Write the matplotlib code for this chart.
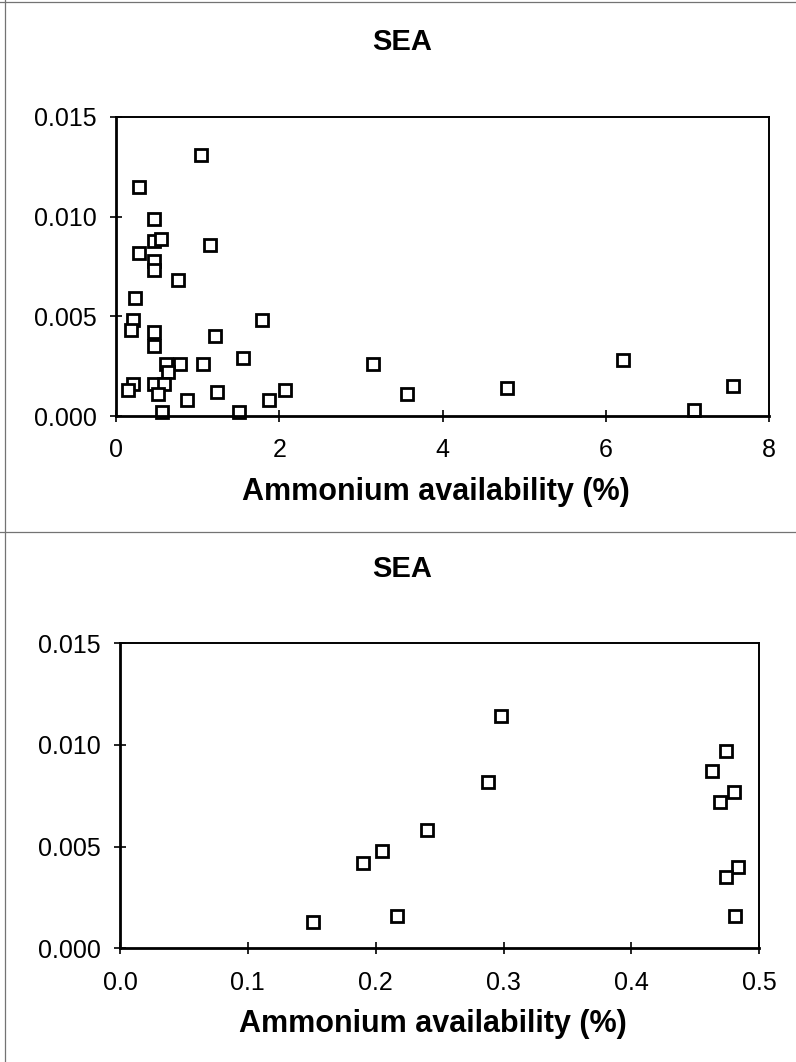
import matplotlib
matplotlib.use("Agg")
import matplotlib.pyplot as plt
from matplotlib.lines import Line2D

plt.rcParams['font.family'] = ['Liberation Sans', 'DejaVu Sans']

# top panel: all samples
x_all = [1.04, 0.28, 0.47, 0.47, 0.55, 0.28, 1.15, 0.47, 0.47, 0.76,
         0.23, 0.21, 0.18, 1.79, 0.47, 0.47, 1.21, 0.61, 0.79, 0.64,
         1.07, 1.55, 3.15, 0.21, 0.15, 0.47, 0.59, 0.52, 1.24, 0.87,
         0.56, 1.51, 1.88, 2.07, 3.56, 4.79, 6.21, 7.08, 7.56]
y_all = [0.0131, 0.0115, 0.0099, 0.0088, 0.0089, 0.0082, 0.0086, 0.0078, 0.0073, 0.0068,
         0.0059, 0.0048, 0.0043, 0.0048, 0.0042, 0.0035, 0.0040, 0.0026, 0.0026, 0.0022,
         0.0026, 0.0029, 0.0026, 0.0016, 0.0013, 0.0016, 0.0016, 0.0011, 0.0012, 0.0008,
         0.0002, 0.0002, 0.0008, 0.0013, 0.0011, 0.0014, 0.0028, 0.0003, 0.0015]

# bottom panel: samples below 0.5 %
x_low = [0.151, 0.190, 0.205, 0.240, 0.217, 0.298, 0.288,
         0.474, 0.463, 0.480, 0.469, 0.483, 0.474, 0.481]
y_low = [0.0013, 0.0042, 0.0048, 0.0058, 0.0016, 0.0114, 0.0082,
         0.0097, 0.0087, 0.0077, 0.0072, 0.0040, 0.0035, 0.0016]

title = "SEA"
xlabel = "Ammonium availability (%)"

W, H = 796, 1062
fig = plt.figure(figsize=(W / 100, H / 100), dpi=100)
ax1 = fig.add_axes([116 / W, 1 - 416 / H, 653 / W, 299 / H])
ax2 = fig.add_axes([120 / W, 1 - 948.3 / H, 639.3 / W, 305 / H])


def style(ax, xs, ys, xlim, xticks, xfmt, label_y):
    ax.plot(xs, ys, linestyle='none', marker='s', ms=8.5, mfc='white',
            mec='black', mew=2.0, clip_on=False)
    ax.set_xlim(*xlim)
    ax.set_ylim(0, 0.015)
    ax.set_xticks(xticks)
    ax.set_xticklabels([xfmt.format(t) for t in xticks])
    ax.set_yticks([0, 0.005, 0.010, 0.015])
    ax.set_yticklabels(['0.000', '0.005', '0.010', '0.015'])
    ax.tick_params(direction='inout', length=8, width=1.2, labelsize=18)
    ax.tick_params(axis='x', pad=12)
    ax.tick_params(axis='y', pad=10)
    for s in ['left', 'bottom']:
        ax.spines[s].set_linewidth(2)
    for s in ['top', 'right']:
        ax.spines[s].set_linewidth(1.4)
    ax.set_xlabel(xlabel, fontsize=22, fontweight='bold')
    ax.xaxis.set_label_coords(0.49, label_y)
    ax.xaxis.label.set_va('center')


style(ax1, x_all, y_all, (0, 8), [0, 2, 4, 6, 8], '{:g}', -0.254)
style(ax2, x_low, y_low, (0, 0.5), [0.0, 0.1, 0.2, 0.3, 0.4, 0.5], '{:.1f}', -0.248)

fig.text(402 / W, 1 - 42 / H, title, ha='center', va='center',
         fontsize=21, fontweight='bold')
fig.text(402 / W, 1 - 569 / H, title, ha='center', va='center',
         fontsize=21, fontweight='bold')

# panel borders from the scanned page
fig.add_artist(Line2D([0, 1], [1 - 532 / H] * 2, color='0.45', lw=0.9))
fig.add_artist(Line2D([0, 1], [1 - 2 / H] * 2, color='0.45', lw=0.9))
fig.add_artist(Line2D([5 / W] * 2, [0, 1], color='0.45', lw=0.9))

fig.savefig('out.png', dpi=100)
